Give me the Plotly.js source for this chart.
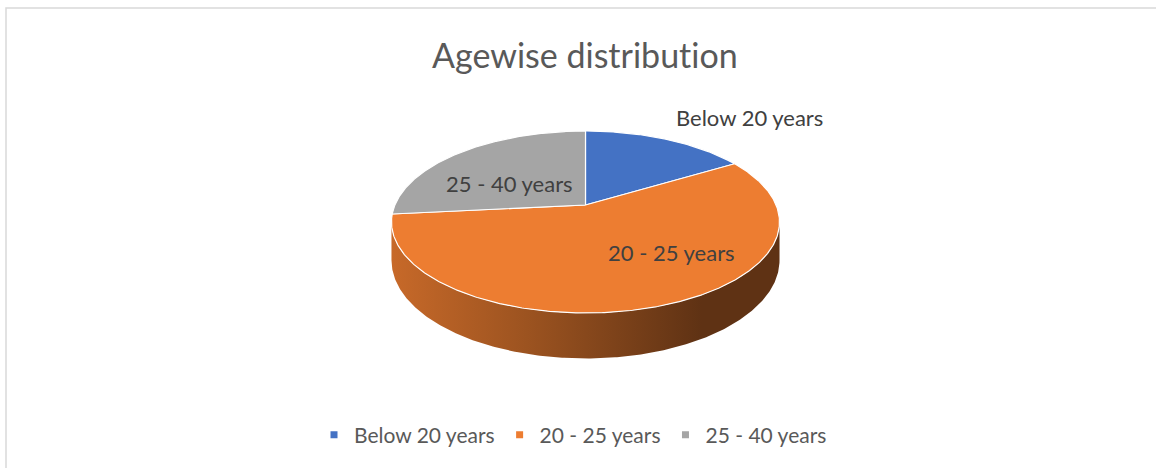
<!DOCTYPE html>
<html><head><meta charset="utf-8">
<script src="https://cdn.plot.ly/plotly-3.0.1.min.js"></script>
<style>html,body{margin:0;padding:0;background:#fff} svg text{font-variant-ligatures:none !important;font-feature-settings:"liga" 0,"clig" 0 !important;}</style>
</head><body><div id="chart" style="width:1156px;height:468px"></div>
<script>
// ---- data ----
const categories = ['Below 20 years', '20 - 25 years', '25 - 40 years'];
const values = [16.4, 57.0, 26.6];
const sliceColors = ['#4472c4', '#ed7d31', '#a5a5a5'];
const chartTitle = 'Agewise distribution';

// ---- styling / geometry (pixel space of the plot) ----
const G = {cx: 585.5, cy: 205, R: 190.6, Rv: 87.8, k: 0.1868, D: 37};
const FONT = 'Lato, "Open Sans", sans-serif';
const labelFrac = [1.12, 0.55, 0.55];
const labelAnchor = [['left', 'bottom'], ['center', 'middle'], ['center', 'middle']];
const labelNudge = [[0, 0], [49, 3], [-3, -9]];

function proj(deg, f, drop) {
  const t = deg * Math.PI / 180;
  const X = f * Math.sin(t), Z = f * Math.cos(t);
  const w = 1 + G.k * Z;
  return [G.cx + G.R * X / w, G.cy - G.Rv * Z / w + (drop || 0) / w];
}
function shade(hex, m) {
  const n = parseInt(hex.slice(1), 16);
  const r = Math.round(((n >> 16) & 255) * m), g = Math.round(((n >> 8) & 255) * m), b = Math.round((n & 255) * m);
  return 'rgb(' + r + ',' + g + ',' + b + ')';
}
function arc(a0, a1, drop) {
  const pts = [];
  const n = Math.max(2, Math.ceil(Math.abs(a1 - a0) / 0.5));
  for (let i = 0; i <= n; i++) pts.push(proj(a0 + (a1 - a0) * i / n, 1, drop));
  return pts;
}

const total = values.reduce((a, b) => a + b, 0);
const starts = [], ends = [];
let acc = 0;
values.forEach(v => { starts.push(acc / total * 360); acc += v; ends.push(acc / total * 360); });

const traces = [];
// side wall (visible front part)
const thR = Math.acos(-G.k) * 180 / Math.PI, thL = 360 - thR;
values.forEach((v, i) => {
  const s = Math.max(starts[i], thR), e = Math.min(ends[i], thL);
  if (s >= e) return;
  const top = arc(s, e, 0), bot = arc(e, s, G.D);
  const pts = top.concat(bot);
  pts.push(top[0]);
  traces.push({
    type: 'scatter', mode: 'lines', x: pts.map(p => p[0]), y: pts.map(p => p[1]),
    fill: 'toself', line: {width: 0, color: shade(sliceColors[i], 0.6)},
    fillcolor: shade(sliceColors[i], 0.6),
    fillgradient: {type: 'horizontal', start: G.cx - 194, stop: G.cx + 194,
      colorscale: [[0, shade(sliceColors[i], 0.84)], [0.35, shade(sliceColors[i], 0.66)], [0.8, shade(sliceColors[i], 0.40)], [1, shade(sliceColors[i], 0.40)]]},
    hoverinfo: 'skip', showlegend: false
  });
});
// top face slices
values.forEach((v, i) => {
  const pts = [[G.cx, G.cy]].concat(arc(starts[i], ends[i], 0));
  pts.push([G.cx, G.cy]);
  traces.push({
    type: 'scatter', mode: 'lines', x: pts.map(p => p[0]), y: pts.map(p => p[1]),
    fill: 'toself', fillcolor: sliceColors[i], line: {color: '#ffffff', width: 1.2},
    name: categories[i], text: categories[i], hoverinfo: 'text', showlegend: false
  });
});
// legend entries
categories.forEach((c, i) => {
  traces.push({type: 'scatter', mode: 'markers', x: [null], y: [null], name: c,
    marker: {symbol: 'square', size: 7, color: sliceColors[i]}, showlegend: true});
});

const annotations = [{
  text: chartTitle, x: 585, y: 54, xref: 'x', yref: 'y', showarrow: false,
  xanchor: 'center', yanchor: 'middle', font: {family: FONT, size: 34, color: '#595959'}
}];
values.forEach((v, i) => {
  const mid = (starts[i] + ends[i]) / 2;
  const p = proj(mid, labelFrac[i], 0);
  annotations.push({
    text: categories[i], x: p[0], y: p[1], xref: 'x', yref: 'y', showarrow: false,
    xanchor: labelAnchor[i][0], yanchor: labelAnchor[i][1],
    xshift: labelNudge[i][0], yshift: labelNudge[i][1],
    font: {family: FONT, size: 22, color: '#404040'}
  });
});

const layout = {
  width: 1156, height: 468, margin: {l: 0, r: 0, t: 0, b: 0},
  paper_bgcolor: '#ffffff', plot_bgcolor: '#ffffff',
  xaxis: {range: [0, 1156], visible: false, fixedrange: true},
  yaxis: {range: [468, 0], visible: false, fixedrange: true},
  showlegend: true,
  legend: {orientation: 'h', x: 0.5026 - 8 / 1156, xanchor: 'center', y: 1 - 435 / 468, yanchor: 'middle',
    font: {family: FONT, size: 21, color: '#595959'}, bgcolor: 'rgba(0,0,0,0)', itemclick: false},
  annotations: annotations,
  shapes: [{type: 'rect', xref: 'x', yref: 'y', x0: 6, y0: 8, x1: 1200, y1: 520,
    line: {color: '#d9d9d9', width: 1.5}, fillcolor: 'rgba(0,0,0,0)', layer: 'below'}]
};
Plotly.newPlot('chart', traces, layout, {displayModeBar: false, staticPlot: true});
</script></body></html>
